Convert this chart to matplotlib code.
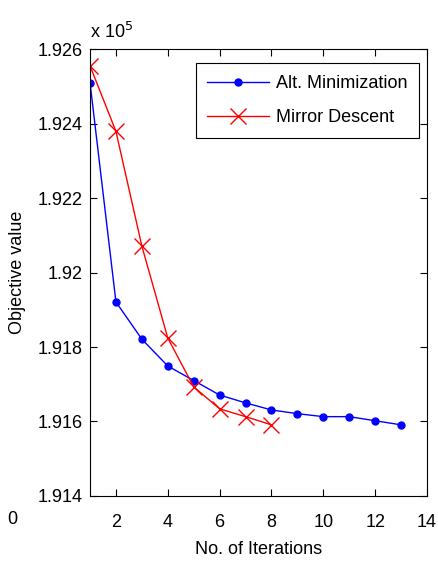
import matplotlib
matplotlib.use("Agg")
import matplotlib.pyplot as plt

# objective values, in units of 1e5
iters_alt = [1, 2, 3, 4, 5, 6, 7, 8, 9, 10, 11, 12, 13]
obj_alt = [1.92510, 1.91921, 1.91821, 1.91749, 1.91710, 1.91671, 1.91650,
           1.91631, 1.91621, 1.91613, 1.91613, 1.91602, 1.91591]

iters_md = [1, 2, 3, 4, 5, 6, 7, 8]
obj_md = [1.92555, 1.92379, 1.92071, 1.91824, 1.91693, 1.91634, 1.91613, 1.91591]

xticks = [2, 4, 6, 8, 10, 12, 14]
yticks = [1.914, 1.916, 1.918, 1.92, 1.922, 1.924, 1.926]
ytick_labels = ["1.914", "1.916", "1.918", "1.92", "1.922", "1.924", "1.926"]

plt.rcParams['font.family'] = ['Liberation Sans', 'DejaVu Sans']
fs = 13

fig = plt.figure(figsize=(4.38, 5.64), dpi=100)
ax = fig.add_axes([0.2055, 0.1206, 0.7695, 0.7924])

ax.plot(iters_alt, obj_alt, color="blue", lw=1, marker="o", ms=5,
        label="Alt. Minimization")
ax.plot(iters_md, obj_md, color="red", lw=1, marker="x", ms=11, mew=1,
        label="Mirror Descent")

ax.set_xlim(1, 14)
ax.set_ylim(1.914, 1.926)
ax.set_xticks(xticks)
ax.set_yticks(yticks)
ax.set_yticklabels(ytick_labels)
ax.tick_params(direction="in", top=True, right=True, length=5, width=0.8,
               labelsize=fs)
ax.tick_params(axis="x", pad=13)
ax.tick_params(axis="y", pad=5)
for s in ax.spines.values():
    s.set_linewidth(0.8)

ax.set_xlabel("No. of Iterations", fontsize=fs)
ax.xaxis.set_label_coords(0.5, -0.1)
ax.set_ylabel("Objective value", fontsize=fs)
ax.yaxis.set_label_coords(-0.19, 0.5)

ax.text(0.0, 1.015, r"x 10$^5$", transform=ax.transAxes, fontsize=fs,
        ha="left", va="bottom")
fig.text(12 / 438, 1 - 520 / 564, "0", fontsize=fs, ha="center", va="center")

leg = ax.legend(loc="upper right", fontsize=fs, fancybox=False, framealpha=1,
                edgecolor="black", handlelength=3.4, borderpad=0.65,
                labelspacing=0.95, handletextpad=0.4, borderaxespad=0,
                bbox_to_anchor=(0.977, 0.968))
leg.get_frame().set_linewidth(0.8)

fig.savefig("out.png", dpi=100)
